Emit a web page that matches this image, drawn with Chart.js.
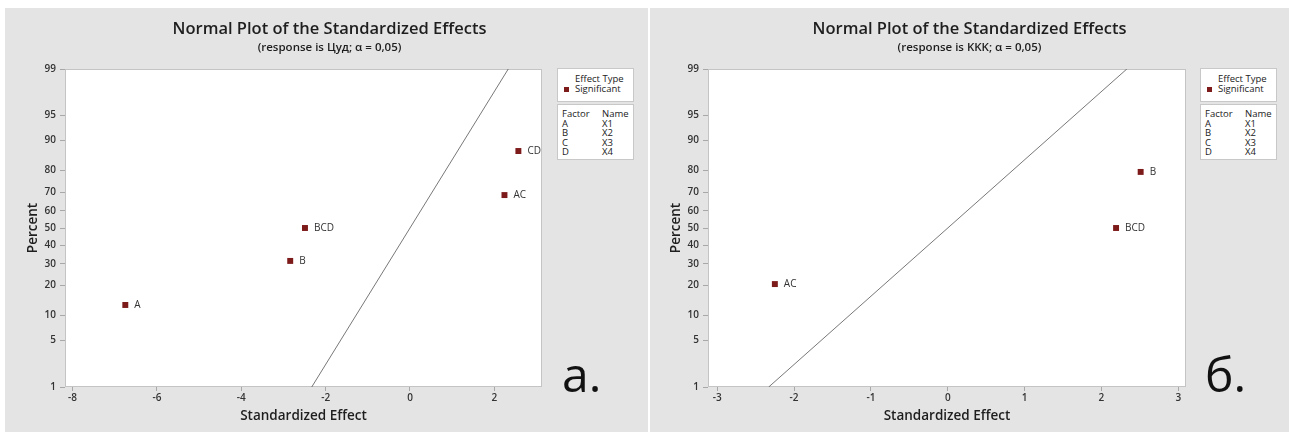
<!DOCTYPE html>
<html><head><meta charset="utf-8">
<script src="https://cdn.jsdelivr.net/npm/chart.js@4"></script>
<style>
html,body{margin:0;padding:0;background:#fff;width:1289px;height:432px;overflow:hidden;font-family:'Open Sans',sans-serif;}
.panel{position:absolute;top:8px;height:424px;background:#e4e4e4;}
.panel canvas{position:absolute;left:0;top:0;}
.lg{position:absolute;background:#fff;border:1px solid #c8c8c8;box-sizing:border-box;font-size:9.5px;color:#222;}
.lg span{position:absolute;white-space:nowrap;line-height:10px;}
.lg i{position:absolute;width:5px;height:5px;background:#7d1a1a;}
.big{position:absolute;font-size:48px;line-height:48px;color:#111;font-weight:400;}
</style></head><body>
<div class="panel" id="pA" style="left:5px;width:643px"><canvas id="cA" width="643" height="424"></canvas></div>
<div class="panel" id="pB" style="left:650px;width:639px"><canvas id="cB" width="639" height="424"></canvas></div>
<script>
// ---- data ----
const yTickPercents = [1, 5, 10, 20, 30, 40, 50, 60, 70, 80, 90, 95, 99];
const xTicksA = [-8, -6, -4, -2, 0, 2];
const xTicksB = [-3, -2, -1, 0, 1, 2, 3];
const termsA = ['A', 'B', 'BCD', 'AC', 'CD'];
const effectsA = [-6.75, -2.84, -2.49, 2.24, 2.57];
const percentA = [13.0, 31.5, 50, 68.5, 87.0];
const termsB = ['AC', 'BCD', 'B'];
const effectsB = [-2.25, 2.19, 2.51];
const percentB = [20.6, 50, 79.4];
const refLineX = [-2.33, 2.33];
const refLinePct = [1, 99];
const factorCodes = ['A', 'B', 'C', 'D'];
const factorNames = ['X1', 'X2', 'X3', 'X4'];

const FONT = "'Open Sans', sans-serif";
const MARK = '#7d1a1a';

function probit(p){
  const a=[-3.969683028665376e+01,2.209460984245205e+02,-2.759285104469687e+02,1.383577518672690e+02,-3.066479806614716e+01,2.506628277459239e+00];
  const b=[-5.447609879822406e+01,1.615858368580409e+02,-1.556989798598866e+02,6.680131188771972e+01,-1.328068155288572e+01];
  const c=[-7.784894002430293e-03,-3.223964580411365e-01,-2.400758277161838e+00,-2.549732539343734e+00,4.374664141464968e+00,2.938163982698783e+00];
  const d=[7.784695709041462e-03,3.224671290700398e-01,2.445134137142996e+00,3.754408661907416e+00];
  const pl=0.02425, ph=1-pl; let q,r;
  if(p<pl){q=Math.sqrt(-2*Math.log(p));return (((((c[0]*q+c[1])*q+c[2])*q+c[3])*q+c[4])*q+c[5])/((((d[0]*q+d[1])*q+d[2])*q+d[3])*q+1);}
  if(p<=ph){q=p-0.5;r=q*q;return (((((a[0]*r+a[1])*r+a[2])*r+a[3])*r+a[4])*r+a[5])*q/(((((b[0]*r+b[1])*r+b[2])*r+b[3])*r+b[4])*r+1);}
  q=Math.sqrt(-2*Math.log(1-p));return -(((((c[0]*q+c[1])*q+c[2])*q+c[3])*q+c[4])*q+c[5])/((((d[0]*q+d[1])*q+d[2])*q+d[3])*q+1);
}

const plotFrame = {
  id:'plotFrame',
  beforeDraw(chart){
    const {ctx, chartArea:a} = chart;
    ctx.save(); ctx.fillStyle='#fff';
    ctx.fillRect(a.left, a.top, a.right-a.left, a.bottom-a.top);
    ctx.restore();
  },
  beforeDatasetsDraw(chart){
    const {ctx, chartArea:a} = chart;
    ctx.save(); ctx.strokeStyle='#c4c4c4'; ctx.lineWidth=1;
    ctx.strokeRect(Math.round(a.left)+0.5, Math.round(a.top)+0.5, Math.round(a.right-a.left)-1, Math.round(a.bottom-a.top)-1);
    ctx.restore();
  }
};
const pointLabels = {
  id:'pointLabels',
  afterDatasetsDraw(chart, args, opts){
    const meta = chart.getDatasetMeta(0);
    const ctx = chart.ctx;
    ctx.save();
    ctx.font = "10px " + FONT; ctx.fillStyle = '#333';
    ctx.textBaseline = 'middle'; ctx.textAlign = 'left';
    meta.data.forEach((el, i) => ctx.fillText(opts.labels[i], el.x + 9, el.y + 0.5));
    ctx.restore();
  }
};

function makeChart(id, cfg){
  const tickFont = {family:FONT, size:10, weight:'600'};
  return new Chart(document.getElementById(id), {
    type:'scatter',
    data:{datasets:[
      {data: cfg.effects.map((x,i)=>({x, y: probit(cfg.pct[i]/100)})),
       pointStyle:'rect', pointRadius:4.2, pointHoverRadius:4.2, backgroundColor:MARK, borderWidth:0},
      {data: refLineX.map((x,i)=>({x, y: probit(refLinePct[i]/100)})),
       showLine:true, borderColor:'#555', borderWidth:0.8, pointRadius:0, fill:false}
    ]},
    options:{
      responsive:false, animation:false, events:[],
      layout:{padding:{left:cfg.padLeft, right:cfg.padRight, top:0, bottom:0}},
      plugins:{
        legend:{display:false}, tooltip:{enabled:false},
        title:{display:true, text:'Normal Plot of the Standardized Effects', color:'#1e1e1e',
               font:{family:FONT, size:16.5, weight:'600'}, padding:{top:11.1, bottom:0}},
        subtitle:{display:true, text:cfg.subtitle, color:'#1e1e1e',
               font:{family:FONT, size:11.5, weight:'600'}, padding:{top:2.2, bottom:14.1}},
        pointLabels:{labels: cfg.terms}
      },
      scales:{
        x:{type:'linear', min:cfg.xMin, max:cfg.xMax,
           afterFit:s=>{s.height=45;},
           afterBuildTicks:s=>{s.ticks = cfg.xTicks.map(v=>({value:v}));},
           ticks:{font:tickFont, color:'#333', padding:1, maxRotation:0, callback:v=>String(v)},
           grid:{display:true, drawOnChartArea:false, drawTicks:true, tickLength:4, color:'#a8a8a8'},
           border:{display:false},
           title:{display:true, text:'Standardized Effect', color:'#1e1e1e',
                  font:{family:FONT, size:13.5, weight:'600'}, padding:{top:0, bottom:7.9}}},
        y:{type:'linear', min:probit(0.01), max:probit(0.99),
           afterFit:s=>{s.width=44;},
           afterBuildTicks:s=>{s.ticks = yTickPercents.map(p=>({value:probit(p/100)}));},
           ticks:{font:tickFont, color:'#333', padding:4, callback:(v,i)=>String(yTickPercents[i])},
           grid:{display:true, drawOnChartArea:false, drawTicks:true, tickLength:5, color:'#a8a8a8'},
           border:{display:false},
           title:{display:true, text:'Percent', color:'#1e1e1e',
                  font:{family:FONT, size:13.5, weight:'600'}, padding:{top:4, bottom:4}}},
        side:{type:'linear', position:'right', display:true,
           afterFit:s=>{s.width=cfg.sideWidth;},
           ticks:{display:false}, grid:{display:false}, border:{display:false}}
      }
    },
    plugins:[plotFrame, pointLabels]
  });
}

makeChart('cA', {effects:effectsA, pct:percentA, terms:termsA, xTicks:xTicksA,
  xMin:-8.18, xMax:3.13, padLeft:16, padRight:10, sideWidth:96, subtitle:'(response is Цуд; α = 0,05)'});
makeChart('cB', {effects:effectsB, pct:percentB, terms:termsB, xTicks:xTicksB,
  xMin:-3.12, xMax:3.10, padLeft:14, padRight:14, sideWidth:89, subtitle:'(response is KKK; α = 0,05)'});

function addLegend(panelId, left, letter){
  const p = document.getElementById(panelId);
  const b1 = document.createElement('div');
  b1.className='lg'; Object.assign(b1.style,{left:left+'px', top:'60px', width:'77px', height:'34px'});
  b1.innerHTML = '<span style="left:17px;top:5px">Effect Type</span>'
    + '<i style="left:6px;top:18px"></i><span style="left:17px;top:15px">Significant</span>';
  p.appendChild(b1);
  const b2 = document.createElement('div');
  b2.className='lg'; Object.assign(b2.style,{left:left+'px', top:'96px', width:'77px', height:'56px'});
  let h = '<span style="left:4px;top:4px">Factor</span><span style="left:44px;top:4px">Name</span>';
  factorCodes.forEach((c,i)=>{
    const t = 14 + i*9.4;
    h += '<span style="left:4px;top:'+t+'px">'+c+'</span><span style="left:44px;top:'+t+'px">'+factorNames[i]+'</span>';
  });
  b2.innerHTML = h;
  p.appendChild(b2);
  const L = document.createElement('div');
  L.className='big'; L.textContent = letter;
  Object.assign(L.style,{left:(left+5)+'px', top:'342px'});
  p.appendChild(L);
}
addLegend('pA', 552, 'а.');
addLegend('pB', 550, 'б.');
</script>
</body></html>
